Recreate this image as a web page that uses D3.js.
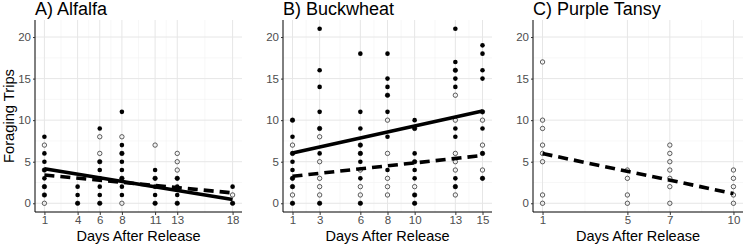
<!DOCTYPE html>
<html>
<head>
<meta charset="utf-8">
<script src="https://cdn.jsdelivr.net/npm/d3@7"></script>
<style>
  body { margin: 0; background: #fff; }
  text { font-family: "Liberation Sans", Arial, sans-serif; }
</style>
</head>
<body>
<script>
// panel titles and day breaks
const titles = ["A) Alfalfa", "B) Buckwheat", "C) Purple Tansy"];
const dayBreaks = [
  [1, 4, 6, 8, 11, 13, 18],
  [1, 3, 6, 8, 10, 13, 15],
  [1, 5, 7, 10]
];
const yBreaks = [0, 5, 10, 15, 20];

// filled points (one group), per panel: [day, trips]
const filledA = [
  [1,8],[1,6],[1,5],[1,4],[1,3],[1,2],[1,1],
  [4,2],[4,1],[4,0],
  [6,9],[6,5],[6,4],[6,3],[6,2],[6,1],[6,0],
  [8,11],[8,7],[8,6],[8,5],[8,4],[8,3],[8,2],[8,1],
  [11,4],[11,3],[11,2],[11,1],[11,0],
  [13,3],[13,2],[13,1],[13,0],
  [18,2],[18,0]
];
const openA = [
  [1,7],[1,4],[1,2],[1,1],[1,0],
  [4,0],
  [6,8],[6,6],[6,5],[6,0],
  [8,8],[8,6],[8,3],[8,0],
  [11,7],[11,3],[11,0],
  [13,6],[13,5],[13,4],[13,3],[13,0],
  [18,1],[18,0]
];
const filledB = [
  [1,10],[1,8],[1,6],[1,5],[1,4],[1,3],[1,2],[1,0],
  [3,21],[3,16],[3,14],[3,11],[3,9],[3,6],[3,0],
  [6,18],[6,11],[6,9],[6,7],[6,6],[6,5],[6,3],[6,0],
  [8,18],[8,15],[8,14],[8,13],[8,11],[8,8],[8,4],
  [10,10],[10,9],[10,6],[10,5],[10,4],[10,3],[10,1],[10,0],
  [13,21],[13,17],[13,16],[13,15],[13,14],[13,9],[13,8],[13,3],[13,2],
  [15,19],[15,18],[15,16],[15,15],[15,11],[15,9],[15,6],[15,3]
];
const openB = [
  [1,10],[1,7],[1,6],[1,3],[1,2],[1,1],[1,0],
  [3,9],[3,8],[3,5],[3,3],[3,2],[3,1],[3,0],
  [6,7],[6,6],[6,4],[6,2],[6,1],[6,0],
  [8,13],[8,10],[8,6],[8,3],[8,2],[8,1],
  [10,9],[10,5],[10,2],[10,1],[10,0],
  [13,16],[13,13],[13,10],[13,6],[13,5],[13,4],[13,2],[13,1],
  [15,11],[15,10],[15,7],[15,6],[15,4],[15,3]
];
const filledC = [];
const openC = [
  [1,17],[1,10],[1,9],[1,7],[1,6],[1,5],[1,1],[1,0],
  [5,4],[5,3],[5,1],[5,0],
  [7,7],[7,6],[7,5],[7,4],[7,3],[7,2],[7,0],
  [10,4],[10,3],[10,2],[10,1],[10,0]
];

// fitted lines: [day, trips] at both ends
const fitSolid = [ [[1,4.15],[18,0.45]], [[1,6.05],[15,11.1]], null ];
const fitDashed = [ [[1,3.4],[18,1.25]], [[1,3.25],[15,5.75]], [[1,5.98],[10,1.17]] ];

const filled = [filledA, filledB, filledC];
const open = [openA, openB, openC];

const W = 744, H = 244;
const panelX = [[35, 242], [283, 492], [533, 743]];
const plotTop = 20, plotBot = 212;

const svg = d3.select("body").append("svg")
  .attr("width", W).attr("height", H);

// shared y scale with ggplot-style 5% expansion
const yMax = 21;
const y = d3.scaleLinear().domain([-0.05 * yMax, yMax * 1.05]).range([plotBot, plotTop]);

// ggplot-like minor breaks: midpoints between breaks, extended by first gap
function minorBreaks(b, lim) {
  const bd = b[1] - b[0];
  let bb = b.slice();
  if (lim[0] < bb[0]) bb.unshift(bb[0] - bd);
  if (lim[1] > bb[bb.length - 1]) bb.push(bb[bb.length - 1] + bd);
  const out = [];
  for (let i = 0; i < bb.length - 1; i++) out.push((bb[i] + bb[i + 1]) / 2);
  return out.filter(v => v >= lim[0] && v <= lim[1]);
}

titles.forEach((title, p) => {
  const br = dayBreaks[p];
  const lo = br[0], hi = br[br.length - 1];
  const ex = (hi - lo) * 0.05;
  const x = d3.scaleLinear().domain([lo - ex, hi + ex]).range(panelX[p]);
  const g = svg.append("g");

  // grid
  const yMinor = minorBreaks(yBreaks, y.domain());
  const xMinor = minorBreaks(br, x.domain());
  g.selectAll(".ymin").data(yMinor).enter().append("line")
    .attr("x1", panelX[p][0]).attr("x2", panelX[p][1])
    .attr("y1", d => y(d)).attr("y2", d => y(d))
    .attr("stroke", "#f2f2f2").attr("stroke-width", 0.6);
  g.selectAll(".xmin").data(xMinor).enter().append("line")
    .attr("x1", d => x(d)).attr("x2", d => x(d))
    .attr("y1", plotTop).attr("y2", plotBot)
    .attr("stroke", "#f2f2f2").attr("stroke-width", 0.6);
  g.selectAll(".ymaj").data(yBreaks).enter().append("line")
    .attr("x1", panelX[p][0]).attr("x2", panelX[p][1])
    .attr("y1", d => y(d)).attr("y2", d => y(d))
    .attr("stroke", "#e6e6e6").attr("stroke-width", 1);
  g.selectAll(".xmaj").data(br).enter().append("line")
    .attr("x1", d => x(d)).attr("x2", d => x(d))
    .attr("y1", plotTop).attr("y2", plotBot)
    .attr("stroke", "#e6e6e6").attr("stroke-width", 1);

  // points
  g.selectAll(".open").data(open[p]).enter().append("circle")
    .attr("cx", d => x(d[0])).attr("cy", d => y(d[1]))
    .attr("r", 2.2).attr("fill", "none")
    .attr("stroke", "#333").attr("stroke-width", 0.8);
  g.selectAll(".filled").data(filled[p]).enter().append("circle")
    .attr("cx", d => x(d[0])).attr("cy", d => y(d[1]))
    .attr("r", 2.3).attr("fill", "#000");

  // fit lines
  const line = d3.line().x(d => x(d[0])).y(d => y(d[1]));
  if (fitSolid[p]) g.append("path").attr("d", line(fitSolid[p]))
    .attr("fill", "none").attr("stroke", "#000").attr("stroke-width", 3.6);
  if (fitDashed[p]) g.append("path").attr("d", line(fitDashed[p]))
    .attr("fill", "none").attr("stroke", "#000").attr("stroke-width", 3.6)
    .attr("stroke-dasharray", "10,6");

  // axes
  const xAxis = g.append("g").attr("transform", `translate(0,${plotBot})`)
    .call(d3.axisBottom(x).tickValues(br).tickSize(3).tickPadding(1).tickSizeOuter(0));
  const yAxis = g.append("g").attr("transform", `translate(${panelX[p][0]},0)`)
    .call(d3.axisLeft(y).tickValues(yBreaks).tickSize(2).tickPadding(2).tickSizeOuter(0));
  [xAxis, yAxis].forEach(a => {
    a.select(".domain").attr("stroke", "#000").attr("stroke-width", 1);
    a.selectAll(".tick line").attr("stroke", "#333");
    a.selectAll(".tick text").attr("fill", "#4d4d4d")
      .style("font-size", "11.5px").style("font-family", "Liberation Sans, Arial, sans-serif");
  });
  yAxis.select(".domain").attr("d", `M0,${plotTop}V${plotBot}`);
  xAxis.select(".domain").attr("d", `M${panelX[p][0]},0H${panelX[p][1]}`);

  // title and x label
  svg.append("text").attr("x", panelX[p][0]).attr("y", 15)
    .style("font-size", "18px").attr("fill", "#000").text(title);
  svg.append("text").attr("x", (panelX[p][0] + panelX[p][1]) / 2).attr("y", 240.5)
    .attr("text-anchor", "middle").style("font-size", "14.5px").text("Days After Release");
});

svg.append("text")
  .attr("transform", `translate(14,${(plotTop + plotBot) / 2}) rotate(-90)`)
  .attr("text-anchor", "middle").style("font-size", "14.7px").text("Foraging Trips");
</script>
</body>
</html>
